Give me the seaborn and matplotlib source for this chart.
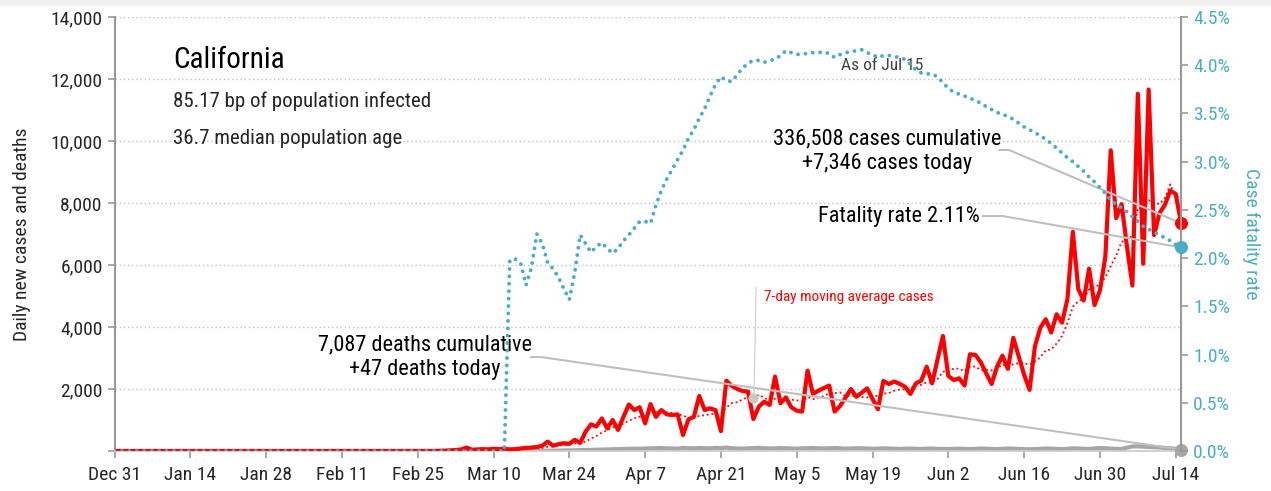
import pandas as pd
import numpy as np
import matplotlib.pyplot as plt
import matplotlib.patches as mpatches
import seaborn as sns

sns.set_theme(style="white")
plt.rcParams['font.family'] = ['Liberation Sans Narrow', 'Roboto Condensed', 'DejaVu Sans']

# --- data (California, Dec 31 2019 .. Jul 15 2020) ---
start = "2019-12-31"
n_days = 198

# daily new cases from Feb 29 (day 60) to Jul 15 (day 197); zero before
cases_tail = [5, 10, 20, 30, 50, 110, 40, 50, 60, 50,
              70, 60, 80, 50, 60, 80, 100, 110, 130, 170,
              300, 170, 220, 250, 230, 360, 260, 620, 860, 790,
              1050, 730, 1000, 680, 1100, 1500, 1320, 1410, 890, 1515,
              1100, 1320, 1180, 1160, 1180, 515, 1020, 1100, 1775, 1320,
              1375, 1320, 640, 2270, 2100, 2000, 1935, 1915, 1030, 1430,
              1590, 1485, 2400, 1540, 1730, 1410, 1300, 1270, 2590, 1840,
              1945, 2030, 2110, 1270, 1450, 1720, 2000, 1750, 1880, 2020,
              1680, 1345, 2260, 2160, 2240, 2170, 2070, 1840, 2180, 2270,
              2720, 2180, 2950, 3710, 2420, 2290, 2345, 2110, 3120, 3100,
              2860, 2500, 2160, 2720, 3075, 2650, 3650, 3055, 2460, 1970,
              3380, 3980, 4250, 3820, 4410, 4140, 4900, 7070, 5225, 4850,
              5880, 4705, 5175, 6260, 9700, 7510, 7965, 6585, 5335, 11525,
              6040, 11660, 6965, 7670, 7940, 8400, 8290, 7346]

# daily new deaths from Feb 29 (day 60) to Jul 15
deaths_tail = [0] * 13 + [1, 2, 3, 4, 5, 5, 7,
               8, 10, 12, 15, 18, 20, 25, 30, 35, 40,
               45, 50, 55, 60, 65, 70, 75, 70, 80, 85,
               90, 95, 85, 80, 75, 100, 90, 85, 95, 90,
               85, 100, 95, 110, 90, 80, 75, 85, 95, 100,
               90, 80, 85, 95, 90, 80, 75, 85, 90, 95,
               85, 80, 90, 95, 85, 75, 80, 90, 85, 80,
               70, 75, 85, 80, 70, 65, 75, 80, 70, 65,
               75, 80, 70, 65, 60, 70, 75, 65, 60, 70,
               80, 75, 65, 60, 70, 80, 75, 65, 60, 55,
               60, 70, 80, 75, 65, 60, 70, 85, 80, 70,
               65, 80, 95, 90, 75, 70, 60, 110, 145, 150,
               140, 130, 120, 115, 100, 90, 70, 47]

# case fatality rate (%) from Mar 13 (day 73) to Jul 15; zero before
rate_tail = [1.98, 1.99, 1.95, 1.72, 1.90, 2.25, 2.15, 1.95, 1.89, 1.80,
             1.68, 1.57, 1.85, 2.24, 2.15, 2.06, 2.12, 2.16, 2.10, 2.05,
             2.10, 2.18, 2.24, 2.31, 2.38, 2.38, 2.36, 2.55, 2.70, 2.82,
             2.92, 3.02, 3.12, 3.24, 3.33, 3.45, 3.55, 3.68, 3.80, 3.88,
             3.84, 3.83, 3.90, 3.97, 4.02, 4.05, 4.05, 4.03, 4.05, 4.06,
             4.10, 4.15, 4.13, 4.11, 4.12, 4.12, 4.13, 4.13, 4.14, 4.12,
             4.08, 4.11, 4.13, 4.14, 4.15, 4.16, 4.13, 4.11, 4.08, 4.10,
             4.10, 4.09, 4.08, 4.06, 4.01, 3.95, 3.92, 3.91, 3.91, 3.88,
             3.82, 3.76, 3.72, 3.70, 3.68, 3.66, 3.63, 3.61, 3.57, 3.54,
             3.51, 3.49, 3.47, 3.44, 3.40, 3.36, 3.33, 3.30, 3.27, 3.23,
             3.19, 3.14, 3.09, 3.04, 3.00, 2.95, 2.90, 2.84, 2.79, 2.73,
             2.67, 2.60, 2.56, 2.52, 2.48, 2.43, 2.38, 2.33, 2.30, 2.27,
             2.24, 2.21, 2.18, 2.14, 2.11]

state = "California"
subtitle1 = "85.17 bp of population infected"
subtitle2 = "36.7 median population age"
cum_cases = "336,508"
cum_deaths = "7,087"

dates = pd.date_range(start, periods=n_days, freq="D")
df = pd.DataFrame({
    "date": dates,
    "cases": [0] * (n_days - len(cases_tail)) + cases_tail,
    "deaths": [0] * (n_days - len(deaths_tail)) + deaths_tail,
    "rate": [0.0] * (n_days - len(rate_tail)) + rate_tail,
})
df["avg7"] = df["cases"].rolling(7, min_periods=1).mean()

RED = "#FF0000"
TEAL = "#4BACC6"
GREY = "#A6A6A6"
LINE = "#BFBFBF"
DARK = "#262626"
YMAX, RMAX = 14000, 4.5


def day(d):
    return pd.Timestamp(start) + pd.Timedelta(days=d)


fig = plt.figure(figsize=(12.71, 4.91), dpi=100)
fig.patches.append(mpatches.Rectangle((0, 1 - 5 / 491), 1, 5 / 491, transform=fig.transFigure,
                                      color="#F0F0F0", zorder=0))
ax = fig.add_axes([0.0901, 0.0815, 0.8392, 0.8839])
ax2 = ax.twinx()

# grid
ax.set_yticks(range(0, YMAX + 1, 2000))
ax.yaxis.grid(True, linestyle=(0, (1, 2)), color=LINE, lw=1)
ax.set_axisbelow(True)

# lines
sns.lineplot(data=df, x="date", y="deaths", ax=ax, color=GREY, lw=3, zorder=2)
sns.lineplot(data=df, x="date", y="avg7", ax=ax, color=RED, lw=1.3, linestyle=(0, (1, 1.6)), zorder=3)
sns.lineplot(data=df, x="date", y="cases", ax=ax, color=RED, lw=3, zorder=4)
sns.lineplot(data=df, x="date", y="rate", ax=ax2, color=TEAL, lw=2.8,
             linestyle=(0, (0.01, 1.9)), dash_capstyle="round", zorder=3)

last = df.iloc[-1]
ax.scatter([last["date"]], [last["cases"]], s=70, color=RED, zorder=6, clip_on=False)
ax.scatter([last["date"]], [last["deaths"]], s=70, color=GREY, zorder=6, clip_on=False)
ax2.scatter([last["date"]], [last["rate"]], s=70, color=TEAL, zorder=6, clip_on=False)

# axes limits / ticks
ax.set_xlim(dates[0], dates[-1])
ax.set_ylim(0, YMAX)
ax2.set_ylim(0, RMAX)
ax.set_yticklabels([""] + [f"{v:,}" for v in range(2000, YMAX + 1, 2000)])
ticks = pd.date_range(start, periods=15, freq="14D")
ax.set_xticks(ticks)
ax.set_xticklabels([f"{t:%b} {t.day}" for t in ticks])
rticks = np.arange(0, RMAX + 0.01, 0.5)
ax2.set_yticks(rticks)
ax2.set_yticklabels([f"{v:.1f}%" for v in rticks])
ax2.grid(False)

ax.tick_params(axis="both", labelsize=14, colors="#999999", labelcolor=DARK, length=5, width=1.2,
               direction="out", left=True, bottom=True)
ax.tick_params(axis="x", pad=6)
ax2.tick_params(axis="y", labelsize=14, colors="#999999", labelcolor=TEAL, length=5, width=1.2,
                direction="out", right=True)

for a in (ax, ax2):
    for s in a.spines.values():
        s.set_visible(False)
ax.spines["left"].set_visible(True)
ax.spines["left"].set_color("#999999")
ax.spines["left"].set_linewidth(1.5)
ax.spines["bottom"].set_visible(True)
ax.spines["bottom"].set_color("#CCCCCC")
ax2.spines["right"].set_visible(True)
ax2.spines["right"].set_color("#999999")
ax2.spines["right"].set_linewidth(1.5)

ax.set_xlabel("")
ax.set_ylabel("Daily new cases and deaths", fontsize=14, color=DARK, labelpad=14)
ax2.set_ylabel("Case fatality rate", fontsize=14, color=TEAL, rotation=-90, labelpad=22)

# title block
ax.text(0.055, 0.90, state, transform=ax.transAxes, fontsize=21, color="black", va="center")
ax.text(0.055, 0.806, subtitle1, transform=ax.transAxes, fontsize=15, color=DARK, va="center")
ax.text(0.055, 0.721, subtitle2, transform=ax.transAxes, fontsize=15, color=DARK, va="center")

# annotations
ax.text(day(142.7), 9677, f"{cum_cases} cases cumulative\n+{last['cases']:,} cases today",
        fontsize=16, ha="center", va="center", multialignment="center", color="black")
ax.plot([day(163.4), day(165.2), last["date"]], [9710, 9710, last["cases"]], color=LINE, lw=1.5, zorder=5)

rate_y = last["rate"] / RMAX * YMAX
ax.text(day(144.9), 7548, f"Fatality rate {last['rate']:.2f}%", fontsize=16, ha="center", va="center",
        color="black")
ax.plot([day(160.3), day(164.0), last["date"]], [7580, 7580, rate_y], color=LINE, lw=1.5, zorder=5)

ax.text(day(57.3), 3032, f"{cum_deaths} deaths cumulative\n+{last['deaths']} deaths today",
        fontsize=16, ha="center", va="center", multialignment="center", color="black")
ax.plot([day(76.9), day(78.8), last["date"]], [3030, 3030, last["deaths"]], color=LINE, lw=1.5, zorder=5)

avg_pt = df["avg7"].iloc[118]
ax.plot([day(118.5), day(118.1)], [5290, avg_pt], color="#CCCCCC", lw=0.8, zorder=5)
ax.scatter([day(118)], [avg_pt], s=40, color="#C8C8C8", zorder=6)
ax.text(day(120), 4970, "7-day moving average cases", fontsize=11, color=RED, va="center")

ax.text(day(141.8), 12450, "As of Jul 15", fontsize=12.5, color="#404040", ha="center", va="center")

fig.savefig("out.png", dpi=100)
